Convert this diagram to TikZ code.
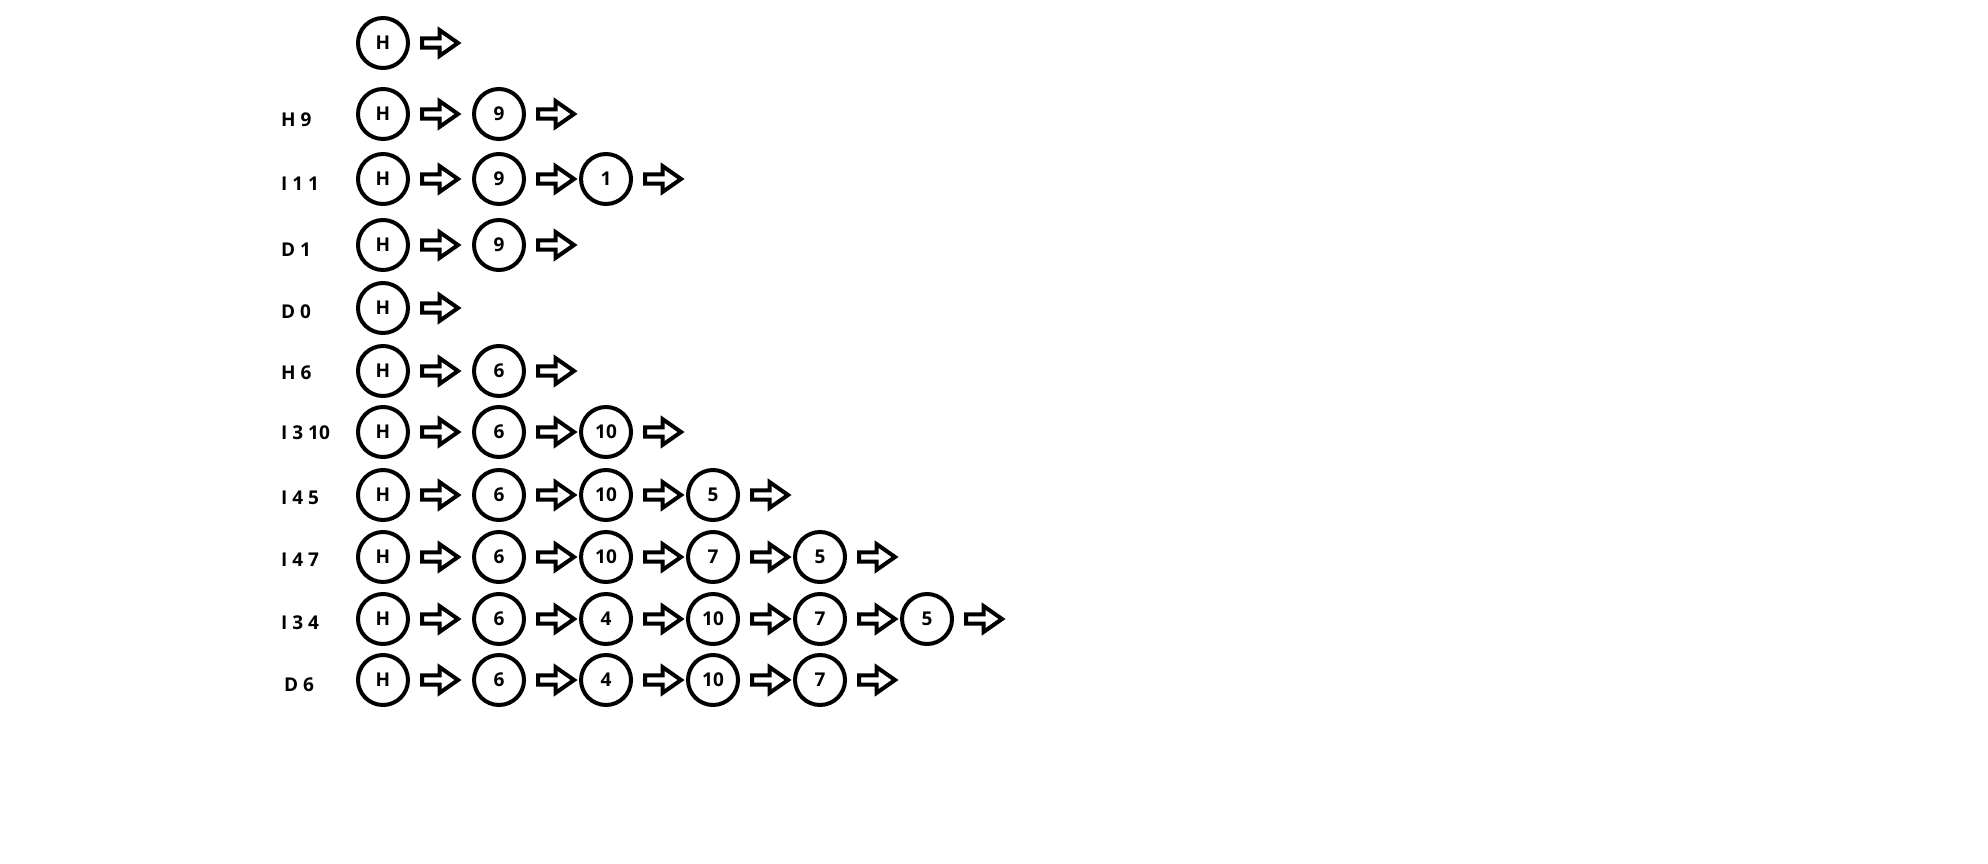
\documentclass[tikz,border=0pt]{standalone}
\usepackage{fontspec}
\setmainfont{Open Sans}
\usetikzlibrary{positioning,shapes.arrows}
\begin{document}
\begin{tikzpicture}[
		x=1pt,y=-1pt,
		node distance=7pt,
		every node/.style={font=\fontsize{19}{21}\selectfont\bfseries},
		cell/.style={circle,draw,line width=4pt,minimum size=50pt,inner sep=0pt,outer sep=0pt},
		link/.style={single arrow,draw,line width=4pt,minimum height=36pt,inner sep=2.65pt,
				single arrow head extend=8.2pt,single arrow tip angle=70,outer sep=0pt},
		op/.style={anchor=west,inner sep=0pt}
	]
	\useasboundingbox (0,0) rectangle (1988,864);
	% row 0
	\node[cell] (r0c0) at (383,43) {H};
	\node[link,right=14pt of r0c0] (r0a0) {};
	% row 1
	\node[op] (r1op) at (281,120) {H 9};
	\node[cell] (r1c0) at (383,114) {H};
	\node[link,right=14pt of r1c0] (r1a0) {};
	\node[cell,right=16pt of r1a0] (r1c1) {9};
	\node[link,right=14pt of r1c1] (r1a1) {};
	% row 2
	\node[op] (r2op) at (281,184) {I 1 1};
	\node[cell] (r2c0) at (383,179) {H};
	\node[link,right=14pt of r2c0] (r2a0) {};
	\node[cell,right=16pt of r2a0] (r2c1) {9};
	\node[link,right=14pt of r2c1] (r2a1) {};
	\node[cell,right=of r2a1] (r2c2) {1};
	\node[link,right=14pt of r2c2] (r2a2) {};
	% row 3
	\node[op] (r3op) at (281,250) {D 1};
	\node[cell] (r3c0) at (383,245) {H};
	\node[link,right=14pt of r3c0] (r3a0) {};
	\node[cell,right=16pt of r3a0] (r3c1) {9};
	\node[link,right=14pt of r3c1] (r3a1) {};
	% row 4
	\node[op] (r4op) at (281,312) {D 0};
	\node[cell] (r4c0) at (383,308) {H};
	\node[link,right=14pt of r4c0] (r4a0) {};
	% row 5
	\node[op] (r5op) at (281,373) {H 6};
	\node[cell] (r5c0) at (383,371) {H};
	\node[link,right=14pt of r5c0] (r5a0) {};
	\node[cell,right=16pt of r5a0] (r5c1) {6};
	\node[link,right=14pt of r5c1] (r5a1) {};
	% row 6
	\node[op] (r6op) at (281,433) {I 3 10};
	\node[cell] (r6c0) at (383,432) {H};
	\node[link,right=14pt of r6c0] (r6a0) {};
	\node[cell,right=16pt of r6a0] (r6c1) {6};
	\node[link,right=14pt of r6c1] (r6a1) {};
	\node[cell,right=of r6a1] (r6c2) {10};
	\node[link,right=14pt of r6c2] (r6a2) {};
	% row 7
	\node[op] (r7op) at (281,498) {I 4 5};
	\node[cell] (r7c0) at (383,495) {H};
	\node[link,right=14pt of r7c0] (r7a0) {};
	\node[cell,right=16pt of r7a0] (r7c1) {6};
	\node[link,right=14pt of r7c1] (r7a1) {};
	\node[cell,right=of r7a1] (r7c2) {10};
	\node[link,right=14pt of r7c2] (r7a2) {};
	\node[cell,right=of r7a2] (r7c3) {5};
	\node[link,right=14pt of r7c3] (r7a3) {};
	% row 8
	\node[op] (r8op) at (281,560) {I 4 7};
	\node[cell] (r8c0) at (383,557) {H};
	\node[link,right=14pt of r8c0] (r8a0) {};
	\node[cell,right=16pt of r8a0] (r8c1) {6};
	\node[link,right=14pt of r8c1] (r8a1) {};
	\node[cell,right=of r8a1] (r8c2) {10};
	\node[link,right=14pt of r8c2] (r8a2) {};
	\node[cell,right=of r8a2] (r8c3) {7};
	\node[link,right=14pt of r8c3] (r8a3) {};
	\node[cell,right=of r8a3] (r8c4) {5};
	\node[link,right=14pt of r8c4] (r8a4) {};
	% row 9
	\node[op] (r9op) at (281,623) {I 3 4};
	\node[cell] (r9c0) at (383,619) {H};
	\node[link,right=14pt of r9c0] (r9a0) {};
	\node[cell,right=16pt of r9a0] (r9c1) {6};
	\node[link,right=14pt of r9c1] (r9a1) {};
	\node[cell,right=of r9a1] (r9c2) {4};
	\node[link,right=14pt of r9c2] (r9a2) {};
	\node[cell,right=of r9a2] (r9c3) {10};
	\node[link,right=14pt of r9c3] (r9a3) {};
	\node[cell,right=of r9a3] (r9c4) {7};
	\node[link,right=14pt of r9c4] (r9a4) {};
	\node[cell,right=of r9a4] (r9c5) {5};
	\node[link,right=14pt of r9c5] (r9a5) {};
	% row 10
	\node[op] (r10op) at (284,685) {D 6};
	\node[cell] (r10c0) at (383,680) {H};
	\node[link,right=14pt of r10c0] (r10a0) {};
	\node[cell,right=16pt of r10a0] (r10c1) {6};
	\node[link,right=14pt of r10c1] (r10a1) {};
	\node[cell,right=of r10a1] (r10c2) {4};
	\node[link,right=14pt of r10c2] (r10a2) {};
	\node[cell,right=of r10a2] (r10c3) {10};
	\node[link,right=14pt of r10c3] (r10a3) {};
	\node[cell,right=of r10a3] (r10c4) {7};
	\node[link,right=14pt of r10c4] (r10a4) {};
\end{tikzpicture}
\end{document}
